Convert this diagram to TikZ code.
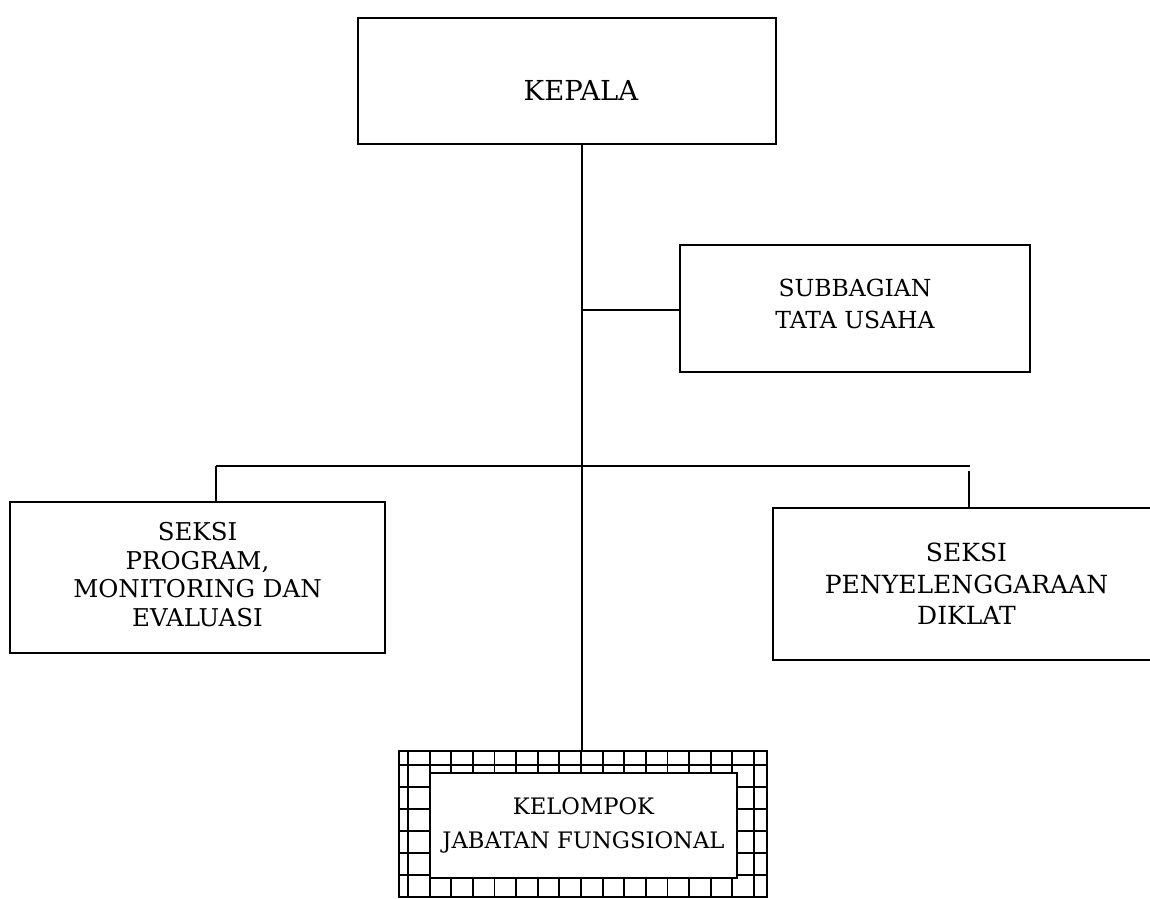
\documentclass[tikz,border=0pt]{standalone}
\usepackage{fontspec}
\setmainfont{DejaVu Serif}
\begin{document}
\begin{tikzpicture}[x=1pt,y=-1pt,
  box/.style={draw=black,line width=1.8pt,inner sep=0pt,outer sep=0pt,align=center,fill=white},
  wire/.style={draw=black,line width=1.8pt},
  gridline/.style={draw=black,line width=1.8pt}]
\useasboundingbox (0,0) rectangle (1150,898);

% boxes
\node[box,minimum width=418pt,minimum height=126pt,
  label={[font=\fontsize{27.5}{30}\selectfont,xshift=14pt,yshift=-9pt]center:KEPALA}] (kepala) at (567,81) {};
\node[box,minimum width=350pt,minimum height=127pt,
  label={[align=center,font=\fontsize{23.5}{32}\selectfont,yshift=4.5pt]center:SUBBAGIAN\\TATA USAHA}] (subbag) at (855,308.5) {};
\node[box,minimum width=375pt,minimum height=151pt,
  label={[align=center,font=\fontsize{24.5}{28.5}\selectfont,yshift=3pt]center:SEKSI\\PROGRAM,\\MONITORING DAN\\EVALUASI}] (seksiA) at (197.5,577.5) {};
\node[box,minimum width=387pt,minimum height=152pt,font=\fontsize{25}{31.5}\selectfont] (seksiB) at (966.5,584) {SEKSI\\PENYELENGGARAAN\\DIKLAT};

% grid frame
\node[box,fill=none,minimum width=368pt,minimum height=146pt] (grid) at (583,824) {};
\begin{scope}
  \clip (grid.south west) rectangle (grid.north east);
  \foreach \i in {0,...,16} \draw[gridline] (408+21.625*\i,751) -- ++(0,146);
  \foreach \j in {0,...,5} \draw[gridline] (399,765+22*\j) -- ++(368,0);
\end{scope}
\draw[wire] (grid.south west) rectangle (grid.north east);
\node[box,minimum width=307pt,minimum height=105pt,font=\fontsize{22.7}{34}\selectfont] (kjf) at (583.5,825.5) {KELOMPOK\\JABATAN FUNGSIONAL};

% connector points
\coordinate (j1) at (582,310);
\coordinate (barL) at (216,466);
\coordinate (barR) at (970,466);

% connectors
\draw[wire] (kepala.south -| j1) -- (grid.north -| j1);
\draw[wire] (j1) -- (j1 -| subbag.west);
\draw[wire] (barL) -- (barR);
\draw[wire] (barL) -- (barL |- seksiA.north);
\draw[wire] ([xshift=-1pt,yshift=-5pt]barR) -- ([xshift=-1pt]barR |- seksiB.north);
\end{tikzpicture}
\end{document}
